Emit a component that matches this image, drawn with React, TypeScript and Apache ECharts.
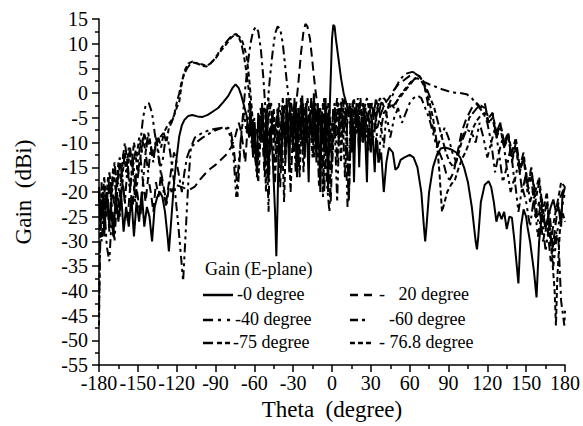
import React, { useEffect, useRef } from "react";
import * as echarts from "echarts";

// Theta (degree) / Gain (dBi) pairs
const gain0: [number, number][] = [
  [-180,-19],[-179,-26],[-177,-21],[-176,-29],[-174,-20],[-172,-27],[-171,-22],[-169,-29],[-167,-21],[-165,-26],
  [-163,-20],[-161,-28],[-159,-23],[-157,-27],[-155,-21],[-153,-29],[-151,-22],[-149,-26],[-147,-20],[-145,-27],
  [-143,-23],[-141,-25],[-139,-30],[-137,-23],[-135,-21],[-133,-20],[-131,-21],[-129,-24],[-127,-29],[-126,-32],
  [-124,-25],[-122,-18],[-120,-13],[-118,-8.7],[-116,-6.5],[-114,-5.4],[-111,-4.6],[-108,-4.4],[-104,-4.7],[-100,-4.8],
  [-96,-4.4],[-92,-3.7],[-88,-3],[-84,-1.8],[-80,-0.5],[-77,1],[-74.5,1.8],[-72,1],[-70,-0.5],[-68,-2.5],
  [-66,-4.5],[-64,-9],[-63,-3],[-61,-13],[-60,-6],[-58,-16],[-57,-4],[-55,-10],[-54,-2],[-52,-14],
  [-51,-5],[-49,-18],[-48,-7],[-46,-12],[-44,-24],[-43,-33],[-42,-22],[-41,-8],[-39,-15],[-38,-3],
  [-36,-12],[-35,-1],[-33,-16],[-32,-4],[-30,-11],[-29,-1],[-27,-17],[-26,-3],[-24,-9],[-23,-0.5],
  [-21,-13],[-20,-2],[-18,-18],[-17,-4],[-15,-10],[-14,0],[-12,-14],[-11,-2],[-9,-20],[-8,-5],
  [-6,-12],[-5,-1],[-3,-20],[-2,-5],[-1,3],[0,11],[1,13.8],[2,13.5],[3,11],[5,7],
  [7,3],[9,0],[11,-2],[13,-4],[14,-3],[15,-12],[16,-5],[17,-18],[18,-7],[20,-4],
  [21,-15],[22,-6],[24,-10],[25,-4],[27,-18],[28,-7],[30,-12],[31,-6],[33,-16],[34,-9],
  [36,-14],[38,-12],[40,-20],[42,-14],[44,-11],[47,-12],[49,-15.5],[51,-15],[53,-13.5],[56,-13],
  [60,-12.5],[63,-13],[66,-15],[69,-20],[71,-27],[72,-30],[73,-27],[75,-20],[78,-15],[81,-12.5],
  [84,-11.2],[87,-11],[90,-11.2],[93,-11.5],[96,-12],[99,-13],[102,-15],[105,-18],[108,-23],[111,-30],
  [112,-31.6],[113,-29],[115,-22],[118,-18.5],[121,-17.8],[123,-19],[125,-22],[127,-26],[129,-24],[131,-25.5],
  [133,-24],[135,-27.5],[137,-25],[139,-25.2],[141,-30],[144,-38.5],[146,-27],[148,-23.5],[150,-25],[151,-27],
  [153,-30],[156,-36],[158,-41.3],[160,-30],[162,-25],[164,-26],[165,-27],[167,-25],[169,-23],[171,-21.5],
  [173,-24],[175,-23],[177,-27],[178,-21],[180,-19]
];

const gain20: [number, number][] = [
  [-180,-21],[-178,-26],[-176,-19],[-174,-25],[-172,-18],[-170,-23],[-168,-27],[-166,-20],[-164,-24],[-162,-18],
  [-160,-22],[-158,-26],[-156,-19],[-154,-23],[-152,-17],[-150,-21],[-148,-25],[-146,-18],[-144,-22],[-142,-17],
  [-140,-20],[-138,-24],[-136,-18],[-134,-21],[-132,-16],[-130,-19],[-128,-22],[-126,-18],[-124,-20],[-121,-18.5],
  [-118,-18.8],[-114,-19.2],[-110,-19.5],[-106,-18.9],[-102,-17.5],[-98,-16.3],[-94,-15.3],[-90,-14.5],[-86,-13.5],[-82,-12.5],
  [-78,-11],[-75,-9],[-72,-6],[-70,-8],[-67,-14],[-65,-6],[-62,-4],[-60,-10],[-58,-7],[-55,-3],
  [-52,-17],[-50,-6],[-47,-2],[-45,-10],[-43,-5],[-40,-19],[-38,-4],[-35,-10],[-32,-2],[-30,-8],
  [-28,-3],[-26,2],[-24,8],[-22,12.5],[-20.5,14],[-19,13.5],[-17,11],[-15,6],[-13,1],[-11,-3],
  [-9,-8],[-7,-2],[-5,-12],[-3,-4],[-1,-22],[1,-6],[3,-3],[5,-10],[7,-2],[9,-8],
  [11,-3],[13,-21],[15,-4],[17,-9],[19,-2],[21,-12],[23,-5],[25,-3],[27,-8],[29,-2],
  [31,-6],[33,-3],[35,-7],[38,-4],[41,-2],[44,-1],[48,0.7],[52,2],[56,2.7],[60,3.5],
  [64,4],[68,3.3],[71,2],[74,-2],[77,-6],[80,-9],[83,-12],[86,-14],[89,-17],[91,-17.5],
  [94,-16],[97,-12],[100,-8],[104,-5],[108,-3],[112,-2],[115,-3],[118,-2],[121,-6],[124,-4],
  [127,-9],[130,-6],[133,-11],[136,-8],[139,-14],[142,-10],[145,-16],[148,-13],[151,-20],[154,-17],
  [157,-25],[160,-22],[163,-30],[166,-26],[169,-34],[172,-28],[175,-22],[178,-20],[180,-19]
];

const gain40: [number, number][] = [
  [-180,-20],[-178,-30],[-176,-22],[-174,-31],[-172,-34],[-170,-24],[-168,-30],[-166,-20],[-164,-25],[-162,-17],
  [-160,-22],[-158,-15],[-156,-20],[-154,-13],[-152,-18],[-150,-14],[-148,-10],[-146,-5],[-144,-2.5],[-141.5,-2],
  [-139,-4],[-137,-8],[-135,-11],[-133,-15],[-131,-14],[-129,-10],[-127,-9],[-125,-12],[-122,-18],[-119,-26],
  [-117,-32],[-115,-38],[-113,-28],[-111,-18],[-109,-11],[-106,-9],[-103,-8.5],[-100,-8],[-95,-7.5],[-90,-7.2],
  [-85,-7],[-81,-7.2],[-78,-9],[-76,-13],[-74,-21],[-72,-14],[-70,-8],[-68,-4],[-66,-8],[-64,-2],
  [-62,-11],[-60,-5],[-58,-17],[-56,-6],[-54,-3],[-52,-10],[-50,-3],[-48,3],[-46,8],[-44,12],
  [-42,13.5],[-40,13],[-38,10],[-36,5],[-34,0],[-32,-5],[-30,-12],[-28,-4],[-26,-15],[-24,-6],
  [-22,-2],[-20,-10],[-18,-4],[-16,-8],[-14,-1],[-12,-9],[-10,-3],[-8,-12],[-6,-5],[-4,-18],
  [-2,-24],[0,-10],[2,-6],[4,-22],[6,-3],[8,-9],[10,-5],[12,-23],[14,-8],[16,-2],
  [18,-6],[20,-1],[22,-10],[24,-3],[26,-7],[28,-12],[30,-4],[32,-9],[34,-6],[36,-14],
  [38,-7],[40,-11],[42,-4],[45,-9],[48,-5],[51,-3],[54,-6],[57,-4],[60,-2],[63,-1],
  [66,-0.5],[69,-1],[72,-3],[75,-5],[78,-8],[81,-11],[84,-9],[87,-7],[90,-9],[93,-12],
  [96,-14],[99,-10],[102,-8],[105,-7.5],[108,-8],[111,-10],[114,-6],[117,-9],[120,-13],[123,-10],
  [126,-16],[129,-12],[132,-18],[135,-15],[138,-20],[141,-17],[144,-24],[147,-19],[150,-22],[153,-27],
  [156,-21],[159,-29],[162,-24],[165,-32],[168,-26],[171,-35],[174,-28],[177,-24],[180,-20]
];

const gain60: [number, number][] = [
  [-180,-44],[-179,-30],[-178,-18],[-176,-25],[-174,-20],[-172,-28],[-170,-19],[-168,-23],[-166,-17],[-164,-21],
  [-162,-14],[-160,-10],[-158,-14],[-156,-19],[-154,-15],[-152,-22],[-150,-17],[-148,-13],[-146,-18],[-144,-12],
  [-142,-16],[-140,-11],[-138,-14],[-136,-9],[-134,-12],[-132,-17],[-130,-20],[-128,-23],[-126,-19],[-124,-15],
  [-122,-12],[-120,-14],[-118,-17],[-116,-20],[-114,-16],[-112,-13],[-110,-11.5],[-108,-10.7],[-104,-9.8],[-100,-9],
  [-95,-8.2],[-90,-7.5],[-85,-7],[-80,-7],[-78,-8],[-76,-11],[-74,-16],[-73,-21],[-71,-12],[-69,-5],
  [-67,1],[-65,6],[-63,10],[-61,12.5],[-59,13.4],[-57,12.5],[-55,9],[-53,3],[-51,-5],[-49,-24],
  [-48,-10],[-46,-4],[-44,-9],[-42,-3],[-40,-12],[-38,-6],[-36,-2],[-34,-8],[-32,-1],[-30,-5],
  [-28,-16],[-26,-3],[-24,-7],[-22,-12],[-20,-4],[-18,-9],[-16,-2],[-14,-6],[-12,-10],[-10,-3],
  [-8,-7],[-6,-20],[-4,-4],[-2,-9],[0,-6],[2,-2],[4,-14],[6,-3],[8,-1],[10,-5],
  [12,-2],[14,-7],[16,-3],[18,-9],[20,-4],[22,-8],[24,-2],[26,-6],[28,-4],[30,-9],
  [32,-3],[34,-5],[36,-2],[38,-7],[40,-4],[43,-3],[46,-1],[49,1],[52,2.5],[55,3.5],
  [58,4],[62,4.3],[65,4],[68,3.3],[71,2.3],[75,1.8],[80,1.3],[85,0.8],[90,0.4],[95,0.1],
  [100,0],[104,-0.2],[108,-1],[111,-2],[114,-3],[117,-4],[120,-6],[123,-10],[126,-7],[129,-12],
  [132,-9],[135,-15],[138,-11],[141,-18],[144,-14],[147,-20],[150,-16],[153,-22],[156,-19],[159,-26],
  [162,-21],[165,-28],[168,-24],[171,-32],[173,-28],[175,-30],[177,-42],[179.5,-47],[180,-44]
];

const gain75: [number, number][] = [
  [-180,-19],[-178,-24],[-176,-17],[-174,-22],[-172,-16],[-170,-20],[-168,-14],[-166,-19],[-164,-13],[-162,-17],
  [-160,-12],[-158,-16],[-156,-11],[-154,-15],[-152,-12],[-150,-16],[-148,-13],[-146,-9],[-144,-12],[-142,-8],
  [-140,-11],[-138,-13],[-136,-10],[-134,-9],[-132,-11],[-130,-8],[-128,-10],[-126,-7],[-124,-6],[-122,-4.5],
  [-120,-2],[-118,0],[-116,2.5],[-114,4],[-112,5],[-110,5.7],[-107,6.2],[-104,6],[-100,5.8],[-97,5.5],
  [-94,6],[-91,6.8],[-88,8],[-85,9.3],[-82,10.2],[-79,11.2],[-76,11.8],[-74,12],[-72,11.3],[-70,10],
  [-68,7.5],[-66,4],[-64,0],[-62,-6],[-60,-12],[-58,-16],[-56,-10],[-54,-6],[-52,-3],[-50,-6],
  [-48,-12],[-46,-5],[-44,-18],[-42,-3],[-40,-9],[-38,-1],[-36,-14],[-34,-4],[-32,-20],[-30,-6],
  [-28,-2],[-26,-11],[-24,-1],[-22,-16],[-20,-5],[-18,-9],[-16,-1],[-14,-13],[-12,-4],[-10,-19],
  [-8,-6],[-6,-1],[-4,-10],[-2,-3],[0,-15],[2,-5],[4,-1],[6,-9],[8,-3],[10,-17],
  [12,-4],[14,-2],[16,-12],[18,-3],[20,-7],[22,-1],[24,-10],[26,-3],[28,-6],[30,-2],
  [32,-5],[34,-1],[36,-4],[38,-2],[40,-1],[43,-2],[46,-3],[49,-2],[52,-1],[55,0],
  [58,1],[61,2],[64,3],[67,3.5],[70,2.5],[73,1],[76,-1],[79,-3],[82,-6],[85,-9],
  [88,-12],[91,-14],[94,-15],[97,-13],[100,-10],[103,-8],[106,-5],[109,-4],[112,-3],[115,-2.5],
  [118,-3],[121,-5],[124,-4],[127,-8],[130,-6],[133,-10],[136,-8],[139,-12],[142,-9],[145,-15],
  [148,-12],[151,-19],[154,-15],[157,-22],[160,-18],[163,-26],[166,-22],[169,-30],[172,-25],[175,-21],
  [177,-18],[180,-19]
];

const gain768: [number, number][] = [
  [-180,-47],[-179.5,-35],[-179,-24],[-177,-19],[-175,-23],[-173,-17],[-171,-21],[-169,-15],[-167,-20],[-165,-14],
  [-163,-18],[-161,-12],[-159,-16],[-157,-11],[-155,-15],[-153,-10],[-151,-13],[-149,-9],[-147,-12],[-145,-8],
  [-143,-11],[-141,-9],[-139,-12],[-137,-11.5],[-135,-10],[-133,-9],[-130,-8],[-127,-6.5],[-124,-5.5],[-122,-4.5],
  [-120,-3],[-118,-1.7],[-116,2],[-114,4.5],[-111,6],[-108,6.4],[-104,6],[-100,5.5],[-97,5.4],[-94,6],
  [-90,7],[-86,8.5],[-82,9.8],[-78,11.2],[-75,11.8],[-72,11.5],[-70,11],[-68,9.5],[-66,7.5],[-64,3],
  [-62,-3],[-60,-10],[-58,-15],[-57,-18],[-55,-8],[-53,-3],[-51,-20],[-49,-1],[-47,-8],[-45,-3],
  [-43,-14],[-41,-2],[-39,-5],[-37,-22],[-35,-3],[-33,-1],[-31,-9],[-29,-2],[-27,-6],[-25,-17],
  [-23,-3],[-21,-7],[-19,-1],[-17,-5],[-15,-13],[-13,-2],[-11,-8],[-9,-3],[-7,-21],[-5,-4],
  [-3,-2],[-1,-12],[1,-3],[3,-7],[5,-2],[7,-14],[9,-1],[11,-4],[13,-22],[15,-3],
  [17,-1],[19,-8],[21,-2],[23,-5],[25,-3],[27,-1],[29,-4],[31,-2],[33,-7],[35,-3],
  [37,-1],[39,-2],[42,-4],[45,-2],[48,-3],[51,-1],[54,0],[57,1],[60,2],[63,2.8],
  [66,3],[69,2.5],[72,1],[75,-1.5],[78,-5],[81,-10],[83,-16],[85,-24],[87,-22],[89,-20],
  [92,-18.5],[95,-17.5],[98,-15],[101,-13],[103,-12],[106,-10],[109,-7],[112,-5.5],[115,-4.5],[118,-4],
  [121,-6],[124,-5],[127,-9],[130,-7],[133,-11],[136,-9],[139,-13],[142,-11],[145,-16],[148,-13],
  [151,-18],[154,-16],[157,-20],[160,-17],[163,-24],[166,-20],[168,-28],[170,-33],[172,-40],[173,-47],
  [174,-38],[176,-28],[178,-24],[180,-26]
];

const xTicks = { min: -180, max: 180, interval: 30 };
const yTicks = { min: -55, max: 15, interval: 5 };

const legendTitle = "Gain (E-plane)";
const seriesNames = ["-0 degree", "-   20 degree", "-40 degree", "-60 degree", "-75 degree", "- 76.8 degree"];

const FONT = "Liberation Serif";

export default function App() {
  const ref = useRef<HTMLDivElement>(null);
  useEffect(() => {
    if (!ref.current) return;
    const chart = echarts.init(ref.current, undefined, { renderer: "svg" });
    const dashes: (number[] | null)[] = [
      null,
      [9, 5],
      [9, 4, 3, 4, 3, 4],
      [9, 4, 3, 4],
      [9, 3, 5, 3, 5, 3],
      [5, 3],
    ];
    const datas = [gain0, gain20, gain40, gain60, gain75, gain768];
    const series = datas.map((d, i) => ({
      type: "line",
      name: seriesNames[i],
      data: d,
      showSymbol: false,
      symbol: "none",
      z: i === 0 ? 5 : 3,
      lineStyle: {
        color: "#000",
        width: 2,
        type: dashes[i] ? dashes[i] : "solid",
      },
    }));

    const textEl = (t: string, x: number, y: number, size = 18) => ({
      type: "text",
      x,
      y: y - size * 0.55,
      style: { text: t, fontSize: size, fontFamily: FONT, fill: "#000" },
    });
    const legLine = (x1: number, x2: number, y: number, dash: number[] | null) => ({
      type: "line",
      shape: { x1, y1: y, x2, y2: y },
      style: { stroke: "#000", lineWidth: 2.5, lineDash: dash || undefined },
    });

    chart.setOption({
      animation: false,
      backgroundColor: "#fff",
      grid: { left: 99, right: 14, top: 19, bottom: 60 },
      xAxis: {
        type: "value",
        min: xTicks.min,
        max: xTicks.max,
        interval: xTicks.interval,
        name: "Theta  (degree)",
        nameLocation: "middle",
        nameGap: 32,
        nameTextStyle: { fontFamily: FONT, fontSize: 23, color: "#000" },
        axisLine: { show: true, onZero: false, lineStyle: { color: "#000", width: 1.5 } },
        axisTick: { show: true, inside: false, length: 7, lineStyle: { color: "#000", width: 1.5 } },
        minorTick: { show: true, splitNumber: 2, length: 4, lineStyle: { color: "#000", width: 1.5 } },
        splitLine: { show: false },
        minorSplitLine: { show: false },
        axisLabel: { fontFamily: FONT, fontSize: 20, color: "#000" },
      },
      yAxis: {
        type: "value",
        min: yTicks.min,
        max: yTicks.max,
        interval: yTicks.interval,
        name: "Gain  (dBi)",
        nameLocation: "middle",
        nameGap: 64,
        nameTextStyle: { fontFamily: FONT, fontSize: 23, color: "#000" },
        axisLine: { show: true, onZero: false, lineStyle: { color: "#000", width: 1.5 } },
        axisTick: { show: true, inside: false, length: 7, lineStyle: { color: "#000", width: 1.5 } },
        minorTick: { show: true, splitNumber: 2, length: 4, lineStyle: { color: "#000", width: 1.5 } },
        splitLine: { show: false },
        minorSplitLine: { show: false },
        axisLabel: { fontFamily: FONT, fontSize: 20, color: "#000", margin: 11 },
      },
      series,
      graphic: [
        textEl(legendTitle, 205, 270),
        legLine(203, 233, 295, dashes[0]),
        textEl(seriesNames[0], 237, 295),
        legLine(203, 233, 320, [10, 5, 3, 6, 3, 6]),
        textEl(seriesNames[2], 235, 320),
        legLine(203, 230, 343, [10, 4, 5, 3, 5, 3]),
        textEl(seriesNames[4], 233, 343),
        legLine(350, 373, 295, [8, 6, 8, 6]),
        textEl(seriesNames[1], 379, 295),
        legLine(350, 365, 320, [8, 4, 3, 4]),
        textEl(seriesNames[3], 389, 320),
        legLine(350, 373, 343, [5, 3]),
        textEl(seriesNames[5], 379, 343),
      ],
    });
    return () => chart.dispose();
  }, []);
  return (
    <div
      ref={ref}
      style={{ position: "absolute", left: 0, top: 0, width: 583, height: 426, background: "#fff" }}
    />
  );
}
